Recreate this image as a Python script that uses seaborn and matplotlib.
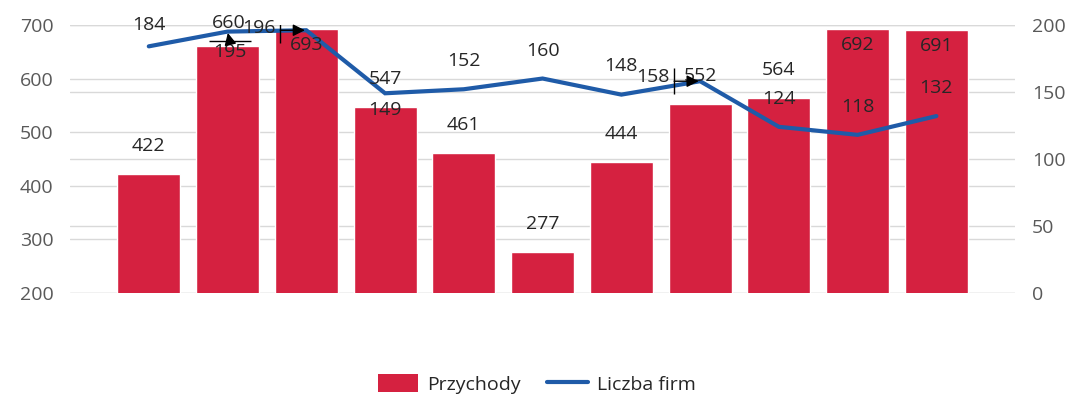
import numpy as np
import pandas as pd
import matplotlib
matplotlib.use("Agg")
import matplotlib.pyplot as plt
from matplotlib.transforms import offset_copy
from matplotlib.patches import Patch
from matplotlib.lines import Line2D
import seaborn as sns

# --- data -------------------------------------------------------------
years = ["2010", "2011", "2012", "2013", "2014", "2015",
         "2016", "2017", "2018", "2019", "2020"]
revenue = [422, 660, 693, 547, 461, 277, 444, 552, 564, 692, 691]   # Przychody
firms = [184, 195, 196, 149, 152, 160, 148, 158, 124, 118, 132]     # Liczba firm

left_ticks = [200, 300, 400, 500, 600, 700]
right_ticks = [0, 50, 100, 150, 200]

# --- style ------------------------------------------------------------
sns.set_theme(style="white")
plt.rcParams["font.family"] = ["Open Sans", "DejaVu Sans"]

BAR_COLOR = "#D52140"
LINE_COLOR = "#1F5BA8"
GRID_COLOR = "#D9D9D9"
TICK_COLOR = "#595959"
TEXT_COLOR = "#262626"
FS = 14

df = pd.DataFrame({"year": years, "revenue": revenue, "firms": firms})
pos = np.arange(len(years))

fig = plt.figure(figsize=(10.74, 3.95), dpi=100)
rect = [0.0652, 0.258, 0.880, 0.679]

# bottom layer: right-axis grid, then bars, then the line on top
ax_bg = fig.add_axes(rect)
ax = fig.add_axes(rect, sharex=ax_bg)
ax_line = fig.add_axes(rect, sharex=ax_bg)
ax_bg.set_zorder(0)
ax.set_zorder(1)
ax_line.set_zorder(2)
ax.patch.set_visible(False)
ax_line.patch.set_visible(False)

sns.barplot(data=df, x="year", y="revenue", ax=ax, color=BAR_COLOR,
            saturation=1, width=0.8, zorder=2)
sns.lineplot(x=pos, y=firms, ax=ax_line, color=LINE_COLOR, lw=3,
             solid_joinstyle="miter", zorder=3)

ax.set_ylim(left_ticks[0], left_ticks[-1])
ax_bg.set_ylim(right_ticks[0], right_ticks[-1])
ax_line.set_ylim(right_ticks[0], right_ticks[-1])
ax.set_xlim(-1, len(years))

ax.set_yticks(left_ticks)
ax.set_xticks(pos)
ax.set_xticklabels(years)
ax_bg.yaxis.tick_right()
ax_bg.set_yticks(right_ticks)
ax_line.set_yticks([])
ax_line.set_xticks([])
ax_bg.tick_params(axis="x", bottom=False, labelbottom=False)

for a in (ax, ax_bg, ax_line):
    for s in a.spines.values():
        s.set_visible(False)
    a.set_xlabel("")
    a.set_ylabel("")

ax.grid(axis="y", color=GRID_COLOR, lw=1)
ax.set_axisbelow(True)
ax_bg.grid(axis="y", color=GRID_COLOR, lw=1)
ax_bg.grid(axis="x", visible=False)
ax.grid(axis="x", visible=False)

ax.tick_params(axis="y", length=0, pad=12, labelsize=FS, labelcolor=TICK_COLOR)
ax.tick_params(axis="x", length=0, pad=11, labelsize=FS, labelcolor=TICK_COLOR)
ax_bg.tick_params(axis="y", length=0, pad=12, labelsize=FS, labelcolor=TICK_COLOR,
                  right=False, labelright=True, left=False, labelleft=False)

# --- data labels (offsets in pixels from the mark) --------------------
bar_offsets = {1: (1, 23), 2: (0, -16), 9: (0, -16), 10: (0, -16)}
line_offsets = {0: (0, 21), 1: (2, -20), 2: (-47, 2), 3: (0, -17),
                6: (0, 29), 7: (-47, 4)}

for i, v in enumerate(revenue):
    dx, dy = bar_offsets.get(i, (0, 28))
    ax_line.annotate(str(v), xy=(i, v), xycoords=ax.transData,
                     xytext=(dx, dy), textcoords="offset pixels",
                     ha="center", va="center", fontsize=FS, color=TEXT_COLOR,
                     zorder=5)

for i, v in enumerate(firms):
    dx, dy = line_offsets.get(i, (0, 28))
    ax_line.annotate(str(v), xy=(i, v), xytext=(dx, dy),
                     textcoords="offset pixels", ha="center", va="center",
                     fontsize=FS, color=TEXT_COLOR, zorder=5)

# leader lines for displaced labels: (index, tail offset px, tail marker)
leaders = [(1, (2, -9), "_", 30), (2, (-26, 0), "|", 19), (7, (-26, 0), "|", 19)]
for i, (dx, dy), mk, ms in leaders:
    ax_line.annotate("", xy=(i, firms[i]), xytext=(dx, dy),
                     textcoords="offset pixels",
                     arrowprops=dict(arrowstyle="-|>,head_length=0.6,head_width=0.3",
                                     color="black", lw=1, shrinkA=0, shrinkB=1),
                     zorder=6)
    tr = offset_copy(ax_line.transData, fig=fig, x=dx, y=dy, units="dots")
    ax_line.plot([i], [firms[i]], marker=mk, ms=ms, mew=1, color="black",
                 transform=tr, zorder=6)

# --- legend -----------------------------------------------------------
handles = [Patch(facecolor=BAR_COLOR, edgecolor="none", label="Przychody"),
           Line2D([], [], color=LINE_COLOR, lw=3, label="Liczba firm")]
fig.legend(handles=handles, loc="center", bbox_to_anchor=(0.4995, 0.028),
           ncol=2, frameon=False, fontsize=FS, labelcolor=TEXT_COLOR,
           handlelength=2.1, handleheight=1.0, handletextpad=0.45,
           columnspacing=1.35)

fig.savefig("out.png", dpi=100)
